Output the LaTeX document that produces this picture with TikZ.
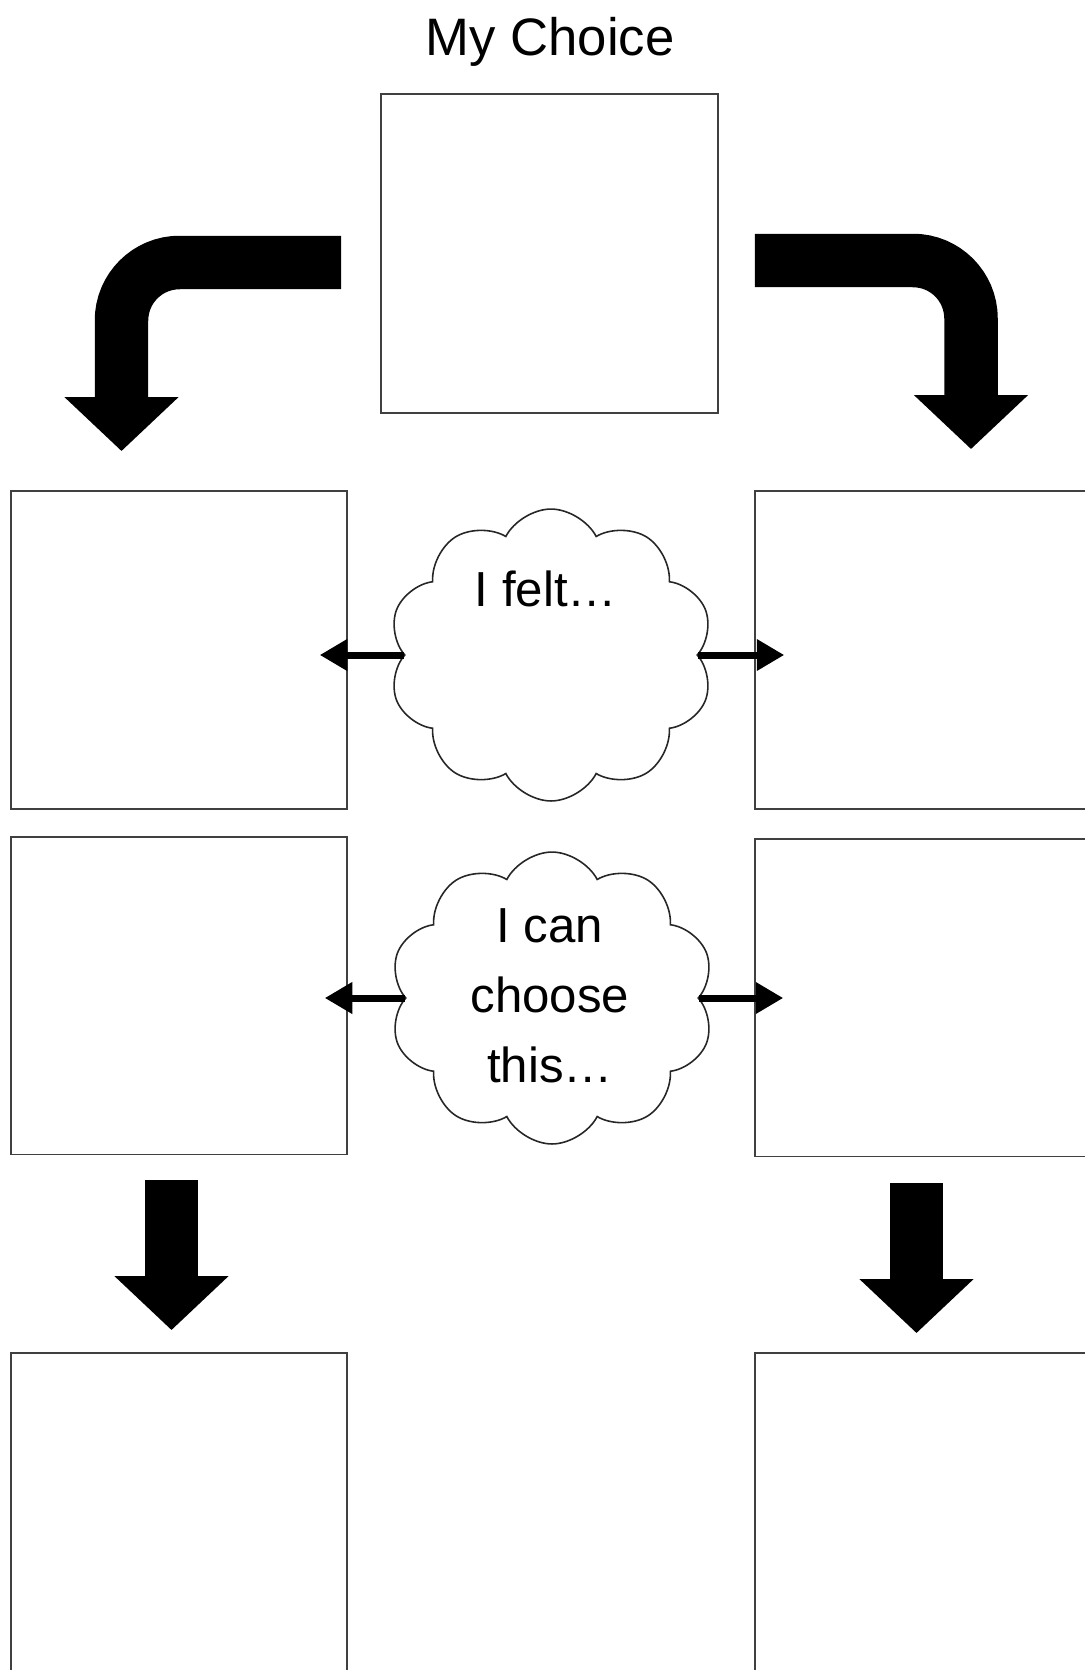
\documentclass[tikz,border=0pt]{standalone}
\usepackage{fontspec}
\setmainfont{Liberation Sans}
\usetikzlibrary{shapes,arrows.meta,positioning,calc}

\tikzset{
  sheet/.style={rectangle, draw=black!75, line width=1.1pt, minimum width=6.72cm, minimum height=6.36cm},
  thought/.style={cloud, draw=black!85, fill=white, line width=0.9pt, cloud puffs=10, cloud puff arc=125, aspect=1.1, minimum width=6.5cm, minimum height=5.84cm},
  bigarrow/.style={line width=1.07cm, -{Triangle[length=1.08cm 0, width=2.22cm 0]}},
  smallarrow/.style={line width=0.14cm, -{Triangle[length=0.55cm 0, width=0.6cm 0]}},
  words/.style={font=\fontsize{28}{40}\selectfont, align=center},
}

\begin{document}
\begin{tikzpicture}[x=0.02cm, y=-0.02cm]
  \useasboundingbox (0,0) rectangle (1085,1670);
  % Place nodes
  \node [sheet, minimum width=6.74cm, minimum height=6.38cm] (choice) at (549.5,253.5) {};
  \node [font=\fontsize{30}{36}\selectfont] (title) at (550,42) {My Choice};
  \node [sheet] (feltL) at (179,650) {};
  \node [sheet] (feltR) at (923,650) {};
  \node [sheet] (canL) at (179,995.5) {};
  \node [sheet] (canR) at (923,997.5) {};
  \node [sheet] (endL) at (179,1512) {};
  \node [sheet] (endR) at (923,1512) {};
  \node [thought] (felt) at (551,655) {};
  \node [words] (feltlbl) at (546,589) {I felt…};
  \node [thought] (can) at (552,998) {};
  \node [words] (canlbl) at (550,996) {I can\\choose\\this…};
  % Draw edges
  \draw [bigarrow, rounded corners=1.16cm] ($(choice.west)+(-39,9)$) -| ($(feltL.north)+(-57.5,-39)$);
  \draw [bigarrow, rounded corners=1.16cm] ($(choice.east)+(36,7)$) -| ($(feltR.north)+(48,-41)$);
  \draw [bigarrow] ($(canL.south)+(-7.5,25)$) -- ($(endL.north)+(-7.5,-22)$);
  \draw [bigarrow] ($(canR.south)+(-6.5,26)$) -- ($(endR.north)+(-6.5,-19)$);
  \draw [smallarrow] (felt.west) -- ($(felt.west)+(-84,0)$);
  \draw [smallarrow] (felt.east) -- ($(felt.east)+(86,0)$);
  \draw [smallarrow] (can.west) -- ($(can.west)+(-80,0)$);
  \draw [smallarrow] (can.east) -- ($(can.east)+(84,0)$);
\end{tikzpicture}
\end{document}
